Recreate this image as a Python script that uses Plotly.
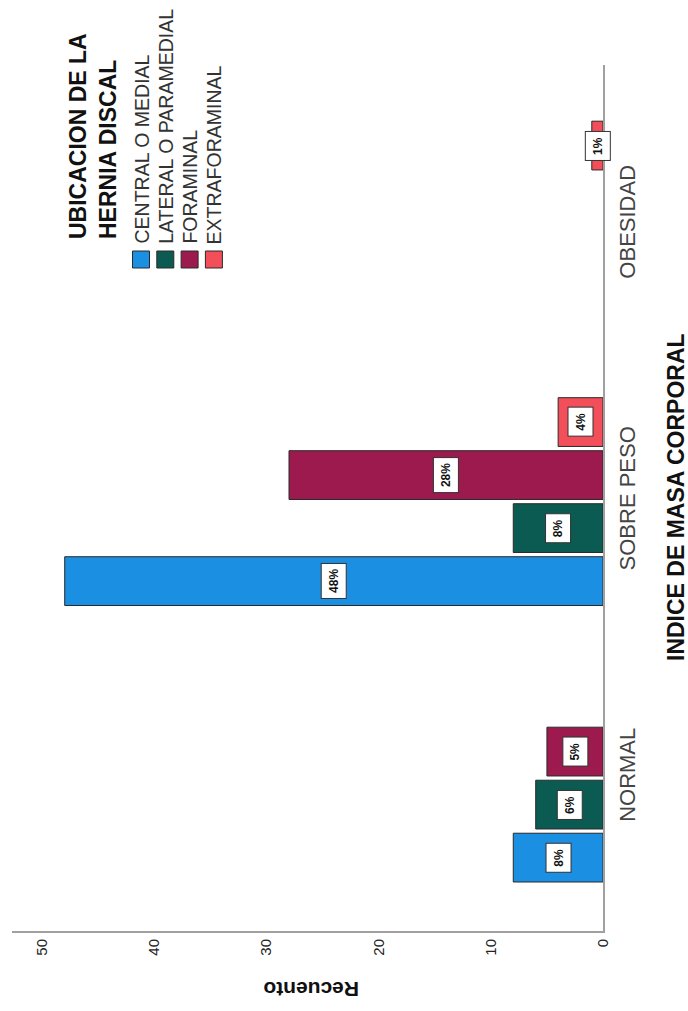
import plotly.graph_objects as go

# Body-mass-index groups (category axis) and herniation location (series)
categories = ["NORMAL", "SOBRE PESO", "OBESIDAD"]
series_names = ["CENTRAL O MEDIAL", "LATERAL O PARAMEDIAL", "FORAMINAL", "EXTRAFORAMINAL"]
central = [8, 48, None]
lateral = [6, 8, None]
foraminal = [5, 28, None]
extraforaminal = [None, 4, 1]
pct_central = ["8%", "48%", None]
pct_lateral = ["6%", "8%", None]
pct_foraminal = ["5%", "28%", None]
pct_extraforaminal = [None, "4%", "1%"]
value_ticks = [0, 10, 20, 30, 40, 50]

colors = ["#1b8fe2", "#0b5b52", "#9c1a4e", "#f24f5b"]
series_values = [central, lateral, foraminal, extraforaminal]
series_pcts = [pct_central, pct_lateral, pct_foraminal, pct_extraforaminal]

FONT = "Liberation Sans, Arial, sans-serif"
BARGAP = 0.233
GROUPGAP = 0.08

# plot area in pixels (used for the hand-built legend placement)
W, H = 688, 1011
L, R, T, B = 12, 85, 65, 80
PW, PH = W - L - R, H - T - B


def px(xp):
    return (xp - L) / PW


def py(yp):
    return (H - B - yp) / PH


fig = go.Figure()
for name, vals, col in zip(series_names, series_values, colors):
    fig.add_trace(go.Bar(
        y=categories, x=vals, name=name, orientation="h",
        marker=dict(color=col, line=dict(color="#2a2a2a", width=1)),
        showlegend=False, hoverinfo="skip",
    ))

# boxed percentage labels at each bar's centre
slot = (1 - BARGAP) / len(series_names)
annotations = []
for k, (vals, pcts) in enumerate(zip(series_values, series_pcts)):
    for i, (v, p) in enumerate(zip(vals, pcts)):
        if v is None or p is None:
            continue
        annotations.append(dict(
            x=v / 2, y=i + (k - (len(series_names) - 1) / 2) * slot,
            xref="x", yref="y", text=p, showarrow=False, textangle=-90,
            font=dict(family=FONT, size=12, color="#111111", weight="bold"),
            bgcolor="white", bordercolor="#333333", borderwidth=1, borderpad=5,
        ))

# axis titles
annotations.append(dict(
    x=px(691), y=py(497), xref="paper", yref="paper",
    text="<b>INDICE DE MASA CORPORAL</b>", showarrow=False, textangle=-90,
    font=dict(family=FONT, size=23, color="#111111"),
))
annotations.append(dict(
    x=px(311), y=py(1003), xref="paper", yref="paper",
    text="<b>Recuento</b>", showarrow=False, textangle=180,
    font=dict(family=FONT, size=21, color="#111111"),
))

# legend: title, swatches and labels
annotations.append(dict(
    x=px(93), y=py(241), xref="paper", yref="paper", xanchor="center", yanchor="bottom",
    text="<b>UBICACION DE LA<br>HERNIA DISCAL</b>", showarrow=False, textangle=-90,
    align="left", font=dict(family=FONT, size=23, color="#111111"),
))
shapes = []
leg_x = [141, 165.3, 189.6, 213.9]
for name, col, cx in zip(series_names, colors, leg_x):
    shapes.append(dict(
        type="rect", xref="paper", yref="paper",
        x0=px(cx - 8.5), x1=px(cx + 8.5), y0=py(268), y1=py(251),
        fillcolor=col, line=dict(color="#2a2a2a", width=1),
    ))
    annotations.append(dict(
        x=px(cx), y=py(246), xref="paper", yref="paper", xanchor="center", yanchor="bottom",
        text=name, showarrow=False, textangle=-90,
        font=dict(family=FONT, size=19.5, color="#333333"),
    ))

fig.update_layout(
    width=W, height=H,
    margin=dict(l=L, r=R, t=T, b=B),
    paper_bgcolor="white", plot_bgcolor="white",
    barmode="group", bargap=BARGAP, bargroupgap=GROUPGAP,
    showlegend=False,
    annotations=annotations, shapes=shapes,
    xaxis=dict(
        range=[52.7, 0], tickvals=value_ticks, tickangle=-90,
        tickfont=dict(family=FONT, size=15, color="#222222"),
        showgrid=False, zeroline=False, showline=True, linecolor="#a0a0a0", linewidth=2,
        ticks="", fixedrange=True,
    ),
    yaxis=dict(
        side="right", type="category", categoryarray=categories,
        range=[-0.553, 2.579], tickangle=-90,
        tickfont=dict(family=FONT, size=22, color="#444444"),
        showgrid=False, zeroline=False, showline=True, linecolor="#a0a0a0", linewidth=2,
        ticks="", ticklabelstandoff=4, fixedrange=True,
    ),
)

fig.write_html("out.html")
